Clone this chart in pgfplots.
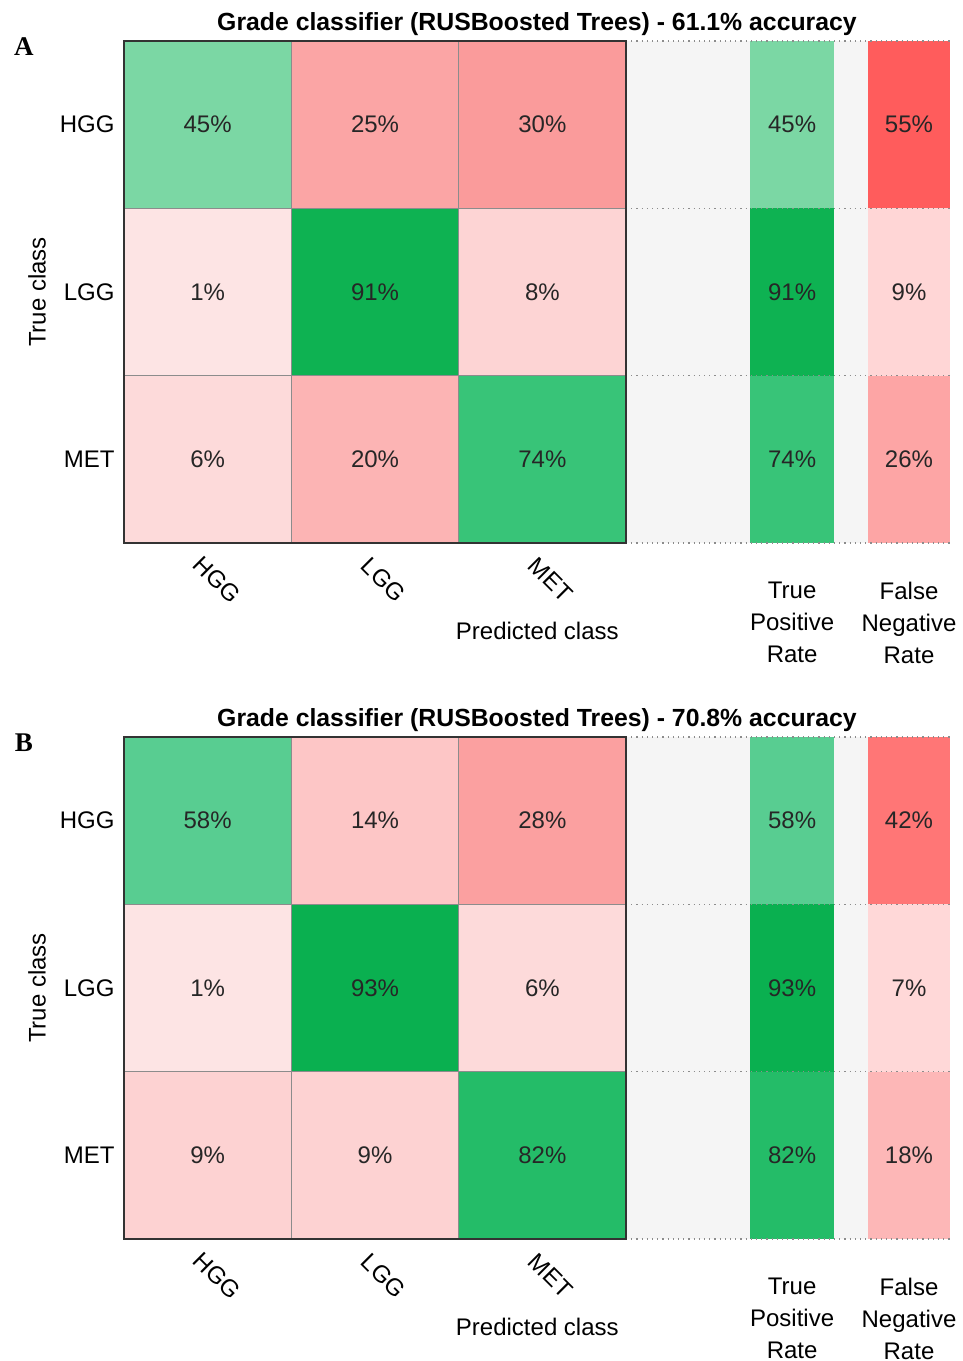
\documentclass[border=0pt]{standalone}
\usepackage{pgfplots}
\pgfplotsset{compat=1.18}
\usepackage{fontspec}
\setmainfont{Liberation Sans}
\newfontfamily\seriffont{Liberation Serif}
% panel A colours
\definecolor{aG45}{RGB}{123,215,164}
\definecolor{aG91}{RGB}{14,178,82}
\definecolor{aG74}{RGB}{56,196,120}
\definecolor{aR25}{RGB}{251,165,165}
\definecolor{aR30}{RGB}{250,155,155}
\definecolor{aR1}{RGB}{253,228,228}
\definecolor{aR8}{RGB}{253,212,212}
\definecolor{aR6}{RGB}{253,218,218}
\definecolor{aR20}{RGB}{252,180,180}
\definecolor{aF55}{RGB}{255,92,92}
\definecolor{aF9}{RGB}{255,214,214}
\definecolor{aF26}{RGB}{253,165,165}
% panel B colours
\definecolor{bG58}{RGB}{88,205,145}
\definecolor{bG93}{RGB}{10,176,80}
\definecolor{bG82}{RGB}{36,188,104}
\definecolor{bR14}{RGB}{253,198,198}
\definecolor{bR28}{RGB}{251,160,160}
\definecolor{bR1}{RGB}{253,228,228}
\definecolor{bR6}{RGB}{253,218,218}
\definecolor{bR9}{RGB}{253,210,210}
\definecolor{bF42}{RGB}{255,118,118}
\definecolor{bF7}{RGB}{255,216,216}
\definecolor{bF18}{RGB}{253,183,183}
\definecolor{bgray}{RGB}{245,245,245}
\newcommand\fs{\fontsize{12}{16}\selectfont}
\pgfplotsset{
  cmstyle/.style={
    scale only axis, width=413pt, height=251pt,
    xmin=0, xmax=4.936, ymin=0, ymax=3,
    axis line style={draw=none}, ticks=none, clip=false,
    title style={font=\bfseries\fontsize{12.4}{14}\selectfont, anchor=base, at={(0.5,1)}, yshift=-0.75pt},
  },
  cell/.style={draw=black!45, line width=0.4pt},
  bar/.style={draw=none},
  dots/.style={draw=black!45, dotted, line width=0.6pt},
  vals/.style={draw=none, mark=none, point meta=explicit symbolic,
    nodes near coords={\pgfplotspointmeta\%},
    every node near coord/.style={anchor=center, font=\fs, text=black!85}},
}
\begin{document}
\begin{tikzpicture}
\path[use as bounding box] (0pt,0pt) rectangle (481.5pt,-680.5pt);
% ================= Panel A =================
\begin{axis}[cmstyle, at={(62pt,-271.5pt)}, anchor=south west,
  title={Grade classifier (RUSBoosted Trees) - 61.1\% accuracy}]
\addplot[bar, fill=bgray] coordinates {(3,0) (4.936,0) (4.936,3) (3,3)} -- cycle;
\addplot[cell, fill=aG45] coordinates {(0,2) (1,2) (1,3) (0,3)} -- cycle;
\addplot[cell, fill=aR25] coordinates {(1,2) (2,2) (2,3) (1,3)} -- cycle;
\addplot[cell, fill=aR30] coordinates {(2,2) (3,2) (3,3) (2,3)} -- cycle;
\addplot[cell, fill=aR1] coordinates {(0,1) (1,1) (1,2) (0,2)} -- cycle;
\addplot[cell, fill=aG91] coordinates {(1,1) (2,1) (2,2) (1,2)} -- cycle;
\addplot[cell, fill=aR8] coordinates {(2,1) (3,1) (3,2) (2,2)} -- cycle;
\addplot[cell, fill=aR6] coordinates {(0,0) (1,0) (1,1) (0,1)} -- cycle;
\addplot[cell, fill=aR20] coordinates {(1,0) (2,0) (2,1) (1,1)} -- cycle;
\addplot[cell, fill=aG74] coordinates {(2,0) (3,0) (3,1) (2,1)} -- cycle;
\addplot[bar, fill=aG45] coordinates {(3.74,2) (4.245,2) (4.245,3) (3.74,3)} -- cycle;
\addplot[bar, fill=aG91] coordinates {(3.74,1) (4.245,1) (4.245,2) (3.74,2)} -- cycle;
\addplot[bar, fill=aG74] coordinates {(3.74,0) (4.245,0) (4.245,1) (3.74,1)} -- cycle;
\addplot[bar, fill=aF55] coordinates {(4.446,2) (4.936,2) (4.936,3) (4.446,3)} -- cycle;
\addplot[bar, fill=aF9] coordinates {(4.446,1) (4.936,1) (4.936,2) (4.446,2)} -- cycle;
\addplot[bar, fill=aF26] coordinates {(4.446,0) (4.936,0) (4.936,1) (4.446,1)} -- cycle;
\addplot[dots] coordinates {(3,3) (4.936,3)};
\addplot[dots] coordinates {(3,2) (4.936,2)};
\addplot[dots] coordinates {(3,1) (4.936,1)};
\addplot[dots] coordinates {(3,0) (4.936,0)};
\addplot[draw=black!80, line width=0.8pt] coordinates {(0,0) (3,0) (3,3) (0,3)} -- cycle;
\addplot[vals] table[meta=v, row sep=\\] {
x y v\\
0.5 2.5 45\\ 1.5 2.5 25\\ 2.5 2.5 30\\
0.5 1.5 1\\ 1.5 1.5 91\\ 2.5 1.5 8\\
0.5 0.5 6\\ 1.5 0.5 20\\ 2.5 0.5 74\\
3.9925 2.5 45\\ 3.9925 1.5 91\\ 3.9925 0.5 74\\
4.691 2.5 55\\ 4.691 1.5 9\\ 4.691 0.5 26\\
};
\node[font=\fs, anchor=east, inner sep=0pt] at (axis cs:-0.054,2.5) {HGG};
\node[font=\fs, anchor=east, inner sep=0pt] at (axis cs:-0.054,1.5) {LGG};
\node[font=\fs, anchor=east, inner sep=0pt] at (axis cs:-0.054,0.5) {MET};
\node[font=\fs, rotate=-45] at (axis cs:0.556,-0.22) {HGG};
\node[font=\fs, rotate=-45] at (axis cs:1.55,-0.22) {LGG};
\node[font=\fs, rotate=-45] at (axis cs:2.55,-0.22) {MET};
\node[font=\fs, anchor=north, inner sep=0pt] at (axis cs:2.47,-0.472) {Predicted class};
\node[font=\fs, rotate=90] at (axis cs:-0.52,1.5) {True class};
\node[font=\fs, align=center, anchor=north, inner sep=0pt] at (axis cs:3.9925,-0.233) {True\\Positive\\Rate};
\node[font=\fs, align=center, anchor=north, inner sep=0pt] at (axis cs:4.691,-0.233) {False\\Negative\\Rate};
\node[font=\seriffont\bfseries\fontsize{13.5}{16}\selectfont] at (axis cs:-0.598,2.964) {A};
\end{axis}
% ================= Panel B =================
\begin{axis}[cmstyle, at={(62pt,-619.5pt)}, anchor=south west,
  title={Grade classifier (RUSBoosted Trees) - 70.8\% accuracy}]
\addplot[bar, fill=bgray] coordinates {(3,0) (4.936,0) (4.936,3) (3,3)} -- cycle;
\addplot[cell, fill=bG58] coordinates {(0,2) (1,2) (1,3) (0,3)} -- cycle;
\addplot[cell, fill=bR14] coordinates {(1,2) (2,2) (2,3) (1,3)} -- cycle;
\addplot[cell, fill=bR28] coordinates {(2,2) (3,2) (3,3) (2,3)} -- cycle;
\addplot[cell, fill=bR1] coordinates {(0,1) (1,1) (1,2) (0,2)} -- cycle;
\addplot[cell, fill=bG93] coordinates {(1,1) (2,1) (2,2) (1,2)} -- cycle;
\addplot[cell, fill=bR6] coordinates {(2,1) (3,1) (3,2) (2,2)} -- cycle;
\addplot[cell, fill=bR9] coordinates {(0,0) (1,0) (1,1) (0,1)} -- cycle;
\addplot[cell, fill=bR9] coordinates {(1,0) (2,0) (2,1) (1,1)} -- cycle;
\addplot[cell, fill=bG82] coordinates {(2,0) (3,0) (3,1) (2,1)} -- cycle;
\addplot[bar, fill=bG58] coordinates {(3.74,2) (4.245,2) (4.245,3) (3.74,3)} -- cycle;
\addplot[bar, fill=bG93] coordinates {(3.74,1) (4.245,1) (4.245,2) (3.74,2)} -- cycle;
\addplot[bar, fill=bG82] coordinates {(3.74,0) (4.245,0) (4.245,1) (3.74,1)} -- cycle;
\addplot[bar, fill=bF42] coordinates {(4.446,2) (4.936,2) (4.936,3) (4.446,3)} -- cycle;
\addplot[bar, fill=bF7] coordinates {(4.446,1) (4.936,1) (4.936,2) (4.446,2)} -- cycle;
\addplot[bar, fill=bF18] coordinates {(4.446,0) (4.936,0) (4.936,1) (4.446,1)} -- cycle;
\addplot[dots] coordinates {(3,3) (4.936,3)};
\addplot[dots] coordinates {(3,2) (4.936,2)};
\addplot[dots] coordinates {(3,1) (4.936,1)};
\addplot[dots] coordinates {(3,0) (4.936,0)};
\addplot[draw=black!80, line width=0.8pt] coordinates {(0,0) (3,0) (3,3) (0,3)} -- cycle;
\addplot[vals] table[meta=v, row sep=\\] {
x y v\\
0.5 2.5 58\\ 1.5 2.5 14\\ 2.5 2.5 28\\
0.5 1.5 1\\ 1.5 1.5 93\\ 2.5 1.5 6\\
0.5 0.5 9\\ 1.5 0.5 9\\ 2.5 0.5 82\\
3.9925 2.5 58\\ 3.9925 1.5 93\\ 3.9925 0.5 82\\
4.691 2.5 42\\ 4.691 1.5 7\\ 4.691 0.5 18\\
};
\node[font=\fs, anchor=east, inner sep=0pt] at (axis cs:-0.054,2.5) {HGG};
\node[font=\fs, anchor=east, inner sep=0pt] at (axis cs:-0.054,1.5) {LGG};
\node[font=\fs, anchor=east, inner sep=0pt] at (axis cs:-0.054,0.5) {MET};
\node[font=\fs, rotate=-45] at (axis cs:0.556,-0.22) {HGG};
\node[font=\fs, rotate=-45] at (axis cs:1.55,-0.22) {LGG};
\node[font=\fs, rotate=-45] at (axis cs:2.55,-0.22) {MET};
\node[font=\fs, anchor=north, inner sep=0pt] at (axis cs:2.47,-0.472) {Predicted class};
\node[font=\fs, rotate=90] at (axis cs:-0.52,1.5) {True class};
\node[font=\fs, align=center, anchor=north, inner sep=0pt] at (axis cs:3.9925,-0.233) {True\\Positive\\Rate};
\node[font=\fs, align=center, anchor=north, inner sep=0pt] at (axis cs:4.691,-0.233) {False\\Negative\\Rate};
\node[font=\seriffont\bfseries\fontsize{13.5}{16}\selectfont] at (axis cs:-0.598,2.964) {B};
\end{axis}
\end{tikzpicture}
\end{document}
